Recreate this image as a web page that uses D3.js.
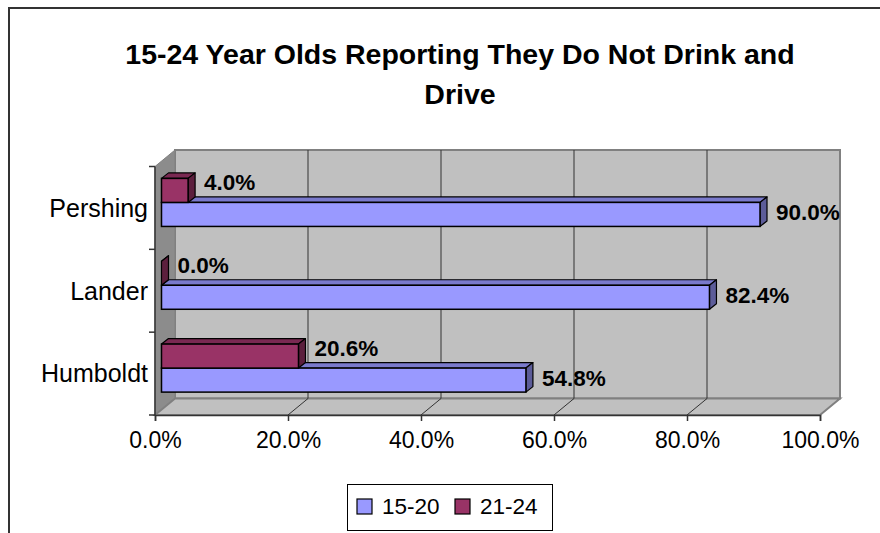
<!DOCTYPE html>
<html>
<head>
<meta charset="utf-8">
<script src="https://cdn.jsdelivr.net/npm/d3@7"></script>
<style>
  html, body { margin: 0; padding: 0; background: #fff; }
  svg { display: block; font-family: "Liberation Sans", Arial, sans-serif; }
</style>
</head>
<body>
<svg id="chart" width="880" height="533"></svg>
<script>
// ---- data ----
const categories = ["Pershing", "Lander", "Humboldt"];
const seriesNames = ["15-20", "21-24"];
const values1520 = [90.0, 82.4, 54.8];
const values2124 = [4.0, 0.0, 20.6];
const xTickValues = [0, 20, 40, 60, 80, 100];
const titleLines = ["15-24 Year Olds Reporting They Do Not Drink and", "Drive"];

// ---- layout ----
const svg = d3.select("#chart");
const front = { left: 155, right: 820, top: 166.5, bottom: 415 };
const depth = { dx: 20, dy: 16.5 };      // plot depth
const barDepth = { dx: 7, dy: 5.5 };     // bar depth
const barOff = { dx: (depth.dx - barDepth.dx) / 2, dy: (depth.dy - barDepth.dy) / 2 };
const colors = { "15-20": "#9999FF", "21-24": "#993366" };
const sideColors = { "15-20": "#5C5C99", "21-24": "#5C1F3D" };
const topColors = { "15-20": "#7A7ACC", "21-24": "#7A2952" };

const x = d3.scaleLinear().domain([0, 100]).range([front.left, front.right]);
const y = d3.scaleBand().domain(categories).range([front.top, front.bottom])
  .paddingInner(0.42).paddingOuter(0.21);
const ySeries = d3.scaleBand().domain(["21-24", "15-20"]).range([0, y.bandwidth()]);

// outer chart border (top and left visible)
svg.append("path").attr("d", "M9,533 V8 H880").attr("fill", "none")
  .attr("stroke", "#333").attr("stroke-width", 2);

// title
const title = svg.append("text").attr("text-anchor", "middle")
  .attr("font-weight", "bold").attr("font-size", 28.5).attr("fill", "#000");
titleLines.forEach((t, i) => {
  title.append("tspan").attr("x", 460).attr("y", 64 + i * 40).text(t);
});

// ---- walls ----
const bx = v => x(v) + depth.dx;
const backTop = front.top - depth.dy, backBottom = front.bottom - depth.dy;
// back wall
svg.append("rect").attr("x", bx(0)).attr("y", backTop)
  .attr("width", bx(100) - bx(0)).attr("height", backBottom - backTop)
  .attr("fill", "#C0C0C0").attr("stroke", "#808080").attr("stroke-width", 2);
// side wall
svg.append("polygon")
  .attr("points", [[x(0), front.top], [bx(0), backTop], [bx(0), backBottom], [x(0), front.bottom]].join(" "))
  .attr("fill", "#8C8C8C").attr("stroke", "#808080").attr("stroke-width", 1);
// floor
svg.append("polygon")
  .attr("points", [[x(0), front.bottom], [bx(0), backBottom], [bx(100), backBottom], [x(100), front.bottom]].join(" "))
  .attr("fill", "#C0C0C0").attr("stroke", "#808080").attr("stroke-width", 2);

// gridlines on back wall and floor
const gridVals = xTickValues.filter(v => v > 0 && v < 100);
svg.append("g").selectAll("line").data(gridVals).join("line")
  .attr("x1", d => bx(d)).attr("x2", d => bx(d))
  .attr("y1", backTop).attr("y2", backBottom)
  .attr("stroke", "#333").attr("stroke-width", 1);
svg.append("g").selectAll("line").data(gridVals).join("line")
  .attr("x1", d => x(d)).attr("x2", d => bx(d))
  .attr("y1", front.bottom).attr("y2", backBottom)
  .attr("stroke", "#333").attr("stroke-width", 1);

// ---- category axis ----
const boundaries = d3.range(categories.length + 1).map(i => front.top + i * y.step());
svg.append("line").attr("x1", x(0)).attr("x2", x(0))
  .attr("y1", front.top).attr("y2", front.bottom).attr("stroke", "#333").attr("stroke-width", 1.5);
svg.append("g").selectAll("line").data(boundaries).join("line")
  .attr("x1", x(0) - 6).attr("x2", x(0)).attr("y1", d => d).attr("y2", d => d)
  .attr("stroke", "#333").attr("stroke-width", 1.5);
svg.append("g").selectAll("text").data(categories).join("text")
  .attr("x", 148).attr("y", d => y(d) + y.bandwidth() / 2)
  .attr("dy", "0.35em").attr("text-anchor", "end")
  .attr("font-size", 25).attr("fill", "#000").text(d => d);

// ---- value axis ----
const xAxis = d3.axisBottom(x).tickValues(xTickValues).tickSize(6).tickPadding(10.5)
  .tickFormat(d => d3.format(".1f")(d) + "%");
const gx = svg.append("g").attr("transform", `translate(0,${front.bottom})`).call(xAxis);
gx.select(".domain").attr("stroke", "#333").attr("stroke-width", 1.5);
gx.selectAll(".tick line").attr("stroke", "#333").attr("stroke-width", 1.5);
gx.selectAll(".tick text").attr("font-size", 23).attr("fill", "#000")
  .attr("font-family", "Liberation Sans, Arial, sans-serif");

// ---- bars ----
const rows = [];
categories.forEach((c, i) => {
  rows.push({ cat: c, s: "15-20", v: values1520[i] });
  rows.push({ cat: c, s: "21-24", v: values2124[i] });
});
const gBars = svg.append("g");
rows.forEach(r => {
  const x0 = x(0) + barOff.dx, x1 = x(r.v) + barOff.dx;
  const y0 = y(r.cat) + ySeries(r.s) - barOff.dy, y1 = y0 + ySeries.bandwidth();
  const g = gBars.append("g");
  // top face
  g.append("polygon")
    .attr("points", [[x0, y0], [x1, y0], [x1 + barDepth.dx, y0 - barDepth.dy], [x0 + barDepth.dx, y0 - barDepth.dy]].join(" "))
    .attr("fill", topColors[r.s]).attr("stroke", "#000").attr("stroke-width", 1.2).attr("stroke-linejoin", "round");
  // side face
  g.append("polygon")
    .attr("points", [[x1, y0], [x1 + barDepth.dx, y0 - barDepth.dy], [x1 + barDepth.dx, y1 - barDepth.dy], [x1, y1]].join(" "))
    .attr("fill", sideColors[r.s]).attr("stroke", "#000").attr("stroke-width", 1.2).attr("stroke-linejoin", "round");
  // front face
  g.append("rect").attr("x", x0).attr("y", y0).attr("width", Math.max(0, x1 - x0)).attr("height", y1 - y0)
    .attr("fill", colors[r.s]).attr("stroke", "#000").attr("stroke-width", 1.5);
  // label
  g.append("text")
    .attr("x", x1 + barDepth.dx + 9)
    .attr("y", (y0 + y1) / 2 + (r.s === "21-24" ? -8 : -2))
    .attr("dy", "0.35em").attr("font-size", 22.5).attr("font-weight", "bold").attr("fill", "#000")
    .text(d3.format(".1f")(r.v) + "%");
});

// ---- legend ----
const legend = svg.append("g");
legend.append("rect").attr("x", 347.5).attr("y", 484.5).attr("width", 205).attr("height", 46)
  .attr("fill", "#fff").attr("stroke", "#000").attr("stroke-width", 1);
const legendX = [357, 455];
seriesNames.forEach((s, i) => {
  legend.append("rect").attr("x", legendX[i]).attr("y", 499).attr("width", 15).attr("height", 15)
    .attr("fill", colors[s]).attr("stroke", "#000").attr("stroke-width", 1.2);
  legend.append("text").attr("x", legendX[i] + 25).attr("y", 514)
    .attr("font-size", 22.5).attr("fill", "#000").text(s);
});
</script>
</body>
</html>
